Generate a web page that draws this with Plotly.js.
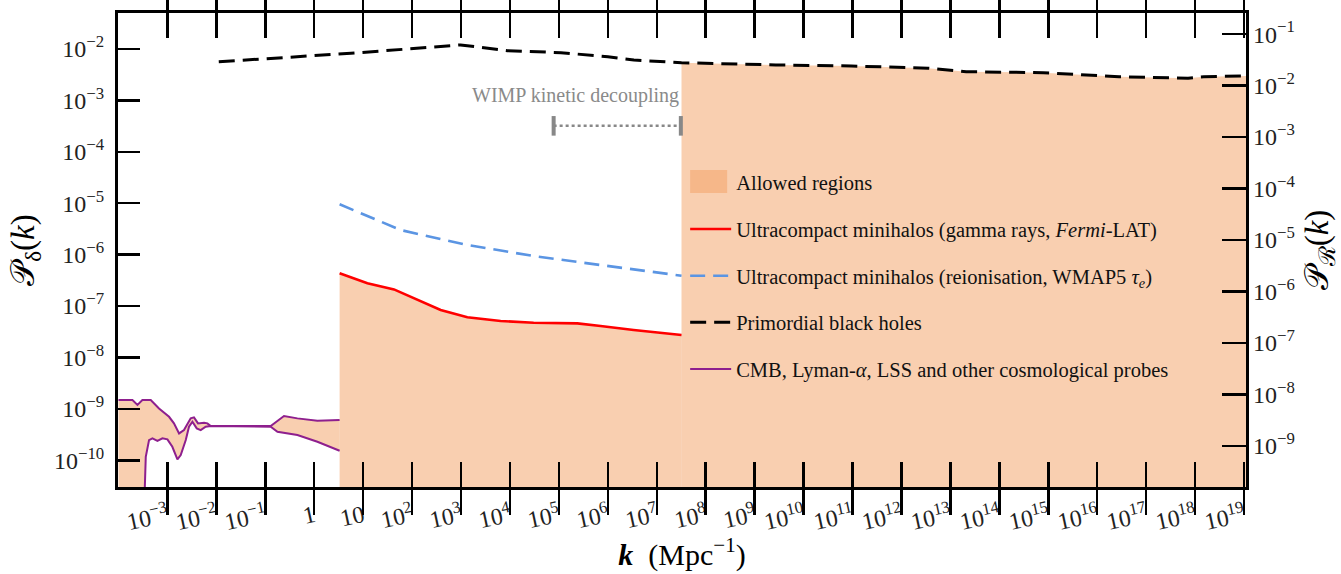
<!DOCTYPE html>
<html><head><meta charset="utf-8">
<script src="https://cdn.plot.ly/plotly-3.0.1.min.js"></script>
<style>html,body{margin:0;padding:0;background:#fff}</style>
</head><body>
<div id="chart" style="width:1341px;height:574px"></div>
<script>
// ---------- data ----------
// Primordial black holes (upper bound)
const pbhK = [0.0112, 5.62, 977, 8.9e3, 1.1e5, 1.0e6, 3.4e6, 1.2e7, 3.2e7, 2.7e9, 9.5e10, 3.5e12, 2.1e13, 7.9e14, 2.8e16, 7.2e17, 1.5e18, 1.1e19];
const pbhP = [5.66e-3, 8.24e-3, 1.20e-2, 9.27e-3, 8.47e-3, 7.08e-3, 6.11e-3, 5.66e-3, 5.4e-3, 4.89e-3, 4.67e-3, 4.22e-3, 3.61e-3, 3.46e-3, 2.89e-3, 2.69e-3, 2.89e-3, 2.99e-3];
// Ultracompact minihalos, gamma rays (Fermi-LAT)
const gammaK = [3.3, 12.2, 42.6, 128, 383, 1346, 6.44e3, 3.04e4, 2.38e5, 7.11e5, 3.36e6, 3.2e7];
const gammaP = [4.33e-7, 2.77e-7, 2.11e-7, 1.31e-7, 8.36e-8, 6.03e-8, 5.11e-8, 4.73e-8, 4.60e-8, 4.08e-8, 3.41e-8, 2.73e-8];
// Ultracompact minihalos, reionisation (WMAP5)
const reionK = [3.3, 58.3, 1349, 3.02e4, 7.08e5, 1.62e7, 3.2e7];
const reionP = [9.55e-6, 3.01e-6, 1.54e-6, 9.40e-7, 6.28e-7, 4.20e-7, 3.89e-7];
// CMB, Lyman-alpha, LSS: upper and lower edges
const cmbUpK = [1.0e-4, 1.93e-4, 2.44e-4, 3.08e-4, 4.56e-4, 6.73e-4, 1.08e-3, 1.36e-3, 1.73e-3, 2.18e-3, 2.99e-3, 3.49e-3, 4.22e-3, 5.60e-3, 6.56e-3, 7.67e-3, 0.129, 0.241, 0.453, 1.16, 3.3];
const cmbUpP = [1.48e-9, 1.48e-9, 1.19e-9, 1.48e-9, 1.48e-9, 1.02e-9, 7.01e-10, 5.22e-10, 3.33e-10, 3.87e-10, 6.53e-10, 6.84e-10, 5.22e-10, 5.37e-10, 5.22e-10, 4.62e-10, 4.62e-10, 7.24e-10, 6.53e-10, 5.86e-10, 6.05e-10];
const cmbLoK = [3.33e-4, 3.61e-4, 4.21e-4, 4.94e-4, 6.25e-4, 7.91e-4, 1.0e-3, 1.26e-3, 1.60e-3, 1.87e-3, 2.37e-3, 2.76e-3, 3.24e-3, 3.97e-3, 4.79e-3, 6.05e-3, 7.67e-3, 0.129, 0.177, 0.453, 1.16, 3.3];
const cmbLoP = [1.0e-11, 1.17e-10, 2.47e-10, 2.67e-10, 2.39e-10, 2.67e-10, 2.55e-10, 1.83e-10, 1.04e-10, 1.26e-10, 2.47e-10, 4.49e-10, 5.61e-10, 4.18e-10, 3.87e-10, 4.49e-10, 4.62e-10, 4.49e-10, 3.58e-10, 3.09e-10, 2.29e-10, 1.53e-10];
// WIMP kinetic decoupling range
const wimpK = [7.8e4, 3.1e7];
const wimpP = [3.2e-4, 3.2e-4];
// floor used to close the allowed regions below the axis
const FLOOR = 1e-11;
// tick labels
const xTickVals = [1e-3,1e-2,1e-1,1,10,1e2,1e3,1e4,1e5,1e6,1e7,1e8,1e9,1e10,1e11,1e12,1e13,1e14,1e15,1e16,1e17,1e18,1e19];
const xTickText = ['10<sup>−3</sup>','10<sup>−2</sup>','10<sup>−1</sup>','1','10','10<sup>2</sup>','10<sup>3</sup>','10<sup>4</sup>','10<sup>5</sup>','10<sup>6</sup>','10<sup>7</sup>','10<sup>8</sup>','10<sup>9</sup>','10<sup>10</sup>','10<sup>11</sup>','10<sup>12</sup>','10<sup>13</sup>','10<sup>14</sup>','10<sup>15</sup>','10<sup>16</sup>','10<sup>17</sup>','10<sup>18</sup>','10<sup>19</sup>'];
const yTickVals = [1e-10,1e-9,1e-8,1e-7,1e-6,1e-5,1e-4,1e-3,1e-2];
const yTickText = ['10<sup>−10</sup>','10<sup>−9</sup>','10<sup>−8</sup>','10<sup>−7</sup>','10<sup>−6</sup>','10<sup>−5</sup>','10<sup>−4</sup>','10<sup>−3</sup>','10<sup>−2</sup>'];
const y2TickVals = [1e-9,1e-8,1e-7,1e-6,1e-5,1e-4,1e-3,1e-2,1e-1];
const y2TickText = ['10<sup>−9</sup>','10<sup>−8</sup>','10<sup>−7</sup>','10<sup>−6</sup>','10<sup>−5</sup>','10<sup>−4</sup>','10<sup>−3</sup>','10<sup>−2</sup>','10<sup>−1</sup>'];

// ---------- styling ----------
const FONT = 'Liberation Serif, "DejaVu Serif", serif';
const FILL = 'rgba(243,160,98,0.5)';

// allowed-region polygons built from the curves above
const reg1X = cmbUpK.concat(cmbLoK.slice().reverse(), [cmbUpK[0]]);
const reg1Y = cmbUpP.concat(cmbLoP.slice().reverse(), [FLOOR]);
const reg2X = gammaK.concat([gammaK[gammaK.length-1], gammaK[0]]);
const reg2Y = gammaP.concat([FLOOR, FLOOR]);
const iSplit = pbhK.indexOf(gammaK[gammaK.length-1]);
const pk3 = pbhK.slice(iSplit), pp3 = pbhP.slice(iSplit);
const reg3X = pk3.concat([pk3[pk3.length-1], pk3[0]]);
const reg3Y = pp3.concat([FLOOR, FLOOR]);

function region(x, y) {
  return {x, y, type:'scatter', mode:'lines', fill:'toself', fillcolor:FILL,
          line:{width:0, color:FILL}, showlegend:false, hoverinfo:'skip'};
}

const traces = [
  region(reg1X, reg1Y), region(reg2X, reg2Y), region(reg3X, reg3Y),
  {x:[null], y:[null], type:'scatter', mode:'lines', name:'Allowed regions',
   line:{color:'rgba(0,0,0,0)', width:2}, legendgroup:'a', legendrank:1},
  {x:cmbUpK, y:cmbUpP, type:'scatter', mode:'lines', name:'CMB, Lyman-<i>α</i>, LSS and other cosmological probes',
   line:{color:'#8e1f8e', width:2}, legendgroup:'e', legendrank:5},
  {x:cmbLoK, y:cmbLoP, type:'scatter', mode:'lines', showlegend:false,
   line:{color:'#8e1f8e', width:2}, legendgroup:'e'},
  {x:gammaK, y:gammaP, type:'scatter', mode:'lines', name:'Ultracompact minihalos (gamma rays, <i>Fermi</i>-LAT)',
   line:{color:'#ff0000', width:2.6}, legendgroup:'b', legendrank:2},
  {x:reionK, y:reionP, type:'scatter', mode:'lines', name:'Ultracompact minihalos (reionisation, WMAP5 <i>τ<sub>e</sub></i>)',
   line:{color:'#5b95e3', width:2.6, dash:'15px,8px'}, legendgroup:'c', legendrank:3},
  {x:pbhK, y:pbhP, type:'scatter', mode:'lines', name:'Primordial black holes',
   line:{color:'#000000', width:3, dash:'16px,8px'}, legendgroup:'d', legendrank:4},
  {x:wimpK, y:wimpP, type:'scatter', mode:'lines+markers', showlegend:false,
   line:{color:'#888888', width:2.5, dash:'dot'},
   marker:{symbol:'line-ns-open', size:14, line:{width:4, color:'#888888'}}, hoverinfo:'skip'},
  {x:[null], y:[null], yaxis:'y2', type:'scatter', showlegend:false, hoverinfo:'skip'}
];

const axisCommon = {
  type:'log', showgrid:false, zeroline:false, showline:true, linecolor:'#000', linewidth:3,
  ticks:'inside', tickcolor:'#000', tickwidth:2.5, tickfont:{family:FONT, size:24, color:'#222'}
};

const layout = {
  width:1341, height:574,
  margin:{l:118, r:95, t:13, b:87, pad:0},
  paper_bgcolor:'#fff', plot_bgcolor:'rgba(0,0,0,0)',
  font:{family:FONT, color:'#000'},
  xaxis: Object.assign({}, axisCommon, {
    range:[-4.01, 19.04], tickvals:xTickVals, ticktext:xTickText, ticklen:25,
    mirror:'allticks', tickangle:-12, ticklabelstandoff:3,
    title:{text:'<b><i>k</i></b>&nbsp;&nbsp;(Mpc<sup>−1</sup>)', font:{family:FONT, size:30}, standoff:2}
  }),
  yaxis: Object.assign({}, axisCommon, {
    range:[-10.52, -1.30], tickvals:yTickVals, ticktext:yTickText, ticklen:22,
    mirror:true, ticklabelstandoff:6,
    title:{text:'𝒫<sub>δ</sub>(<i>k</i>)', font:{family:FONT, size:33}, standoff:10}
  }),
  yaxis2: Object.assign({}, axisCommon, {
    overlaying:'y', side:'right', range:[-9.80, -0.59], tickvals:y2TickVals, ticktext:y2TickText,
    ticklen:24, showline:false, ticklabelstandoff:6,
    title:{text:'𝒫<sub>ℛ</sub>(<i>k</i>)', font:{family:FONT, size:33}, standoff:10}
  }),
  legend:{x:0.5028, y:0.6844, xanchor:'left', yanchor:'top', bgcolor:'rgba(0,0,0,0)',
          font:{family:FONT, size:20.5, color:'#111'}, tracegroupgap:17, itemwidth:41},
  shapes:[
    // legend patch for "Allowed regions"
    {type:'rect', xref:'paper', yref:'paper', x0:0.5072, x1:0.5400, y0:0.620, y1:0.6686,
     fillcolor:FILL, line:{width:0}, layer:'above'}
  ],
  annotations:[
    {xref:'x', yref:'y', x:Math.log10(wimpK[1]), y:-2.91, xanchor:'right', yanchor:'middle',
     text:'WIMP kinetic decoupling', showarrow:false, font:{family:FONT, size:20, color:'#8a8a8a'}}
  ]
};

Plotly.newPlot('chart', traces, layout, {displayModeBar:false, staticPlot:true});
</script>
</body></html>
